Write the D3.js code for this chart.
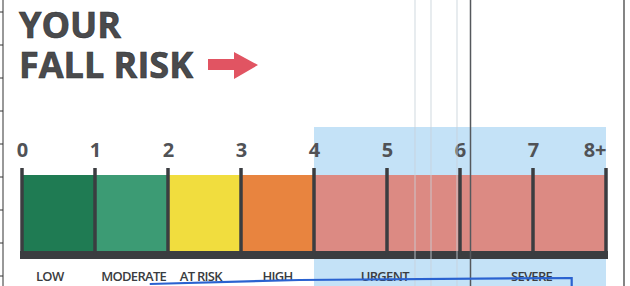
<!DOCTYPE html>
<html><head><meta charset="utf-8">
<script src="https://cdn.jsdelivr.net/npm/d3@7"></script>
<style>html,body{margin:0;padding:0;background:#fff;overflow:hidden}svg{display:block}</style>
</head><body>
<svg id="c" width="630" height="286"></svg>
<script>
// ---- data ----
const titleLines = ["YOUR","FALL RISK"];
const tickLabels = ["0","1","2","3","4","5","6","7","8+"];
const tickValues = [0,1,2,3,4,5,6,7,8];
const segStart = [0,1,2,3,4];
const segEnd   = [1,2,3,4,8];
const segColors = ["#1f7b53","#3c9b74","#f1dd3e","#e8843f","#dc8a83"];
const riskLabels = ["LOW","MODERATE","AT RISK","HIGH","URGENT","SEVERE"];
const riskLabelPos = [0.38,1.53,2.45,3.5,4.97,6.98];
const highlightRange = [4,8];
const markerX = [1.75,3.8,7.53,7.53];
const markerY = [284,280,278,292];

const svg = d3.select("#c");
const x = d3.scaleLinear().domain([0,8]).range([22,606]);

// scanned page artifacts: borders
svg.append("line").attr("x1",3).attr("x2",3).attr("y1",0).attr("y2",286).attr("stroke","#333").attr("stroke-width",1);
d3.range(12,286,33).forEach(y=>svg.append("line").attr("x1",0).attr("x2",3).attr("y1",y).attr("y2",y).attr("stroke","#333"));
svg.append("line").attr("x1",624).attr("x2",624).attr("y1",0).attr("y2",286).attr("stroke","#333").attr("stroke-width",1.2);

// highlight
svg.append("rect").attr("x",x(highlightRange[0])).attr("y",127)
  .attr("width",x(highlightRange[1])-x(highlightRange[0])).attr("height",170).attr("fill","#c4e2f7");

// title
svg.selectAll("text.title").data(titleLines).join("text").attr("class","title")
  .attr("x",19).attr("y",(d,i)=>38+i*40)
  .attr("font-family","Open Sans").attr("font-weight",700)
  .attr("font-size",36).attr("fill","#4a4b4d").attr("stroke","#2e2f31").attr("stroke-width",0.6)
  .text(d=>d);
// arrow
svg.append("path").attr("d","M208,59 L234,59 L234,52 L258,65 L234,79 L234,70 L208,70 Z").attr("fill","#e15462");

// segments
svg.selectAll("rect.seg").data(segStart).join("rect").attr("class","seg")
  .attr("x",(d)=>x(d)).attr("y",175).attr("width",(d,i)=>x(segEnd[i])-x(d)).attr("height",78)
  .attr("fill",(d,i)=>segColors[i]);

// baseline
svg.append("rect").attr("x",x(0)-2).attr("y",251).attr("width",x(8)-x(0)+4).attr("height",8).attr("fill","#3b3d40");

// ticks
const axis = d3.axisTop(x).tickValues(tickValues).tickFormat((d,i)=>tickLabels[i]).tickSize(0).tickPadding(0);
const g = svg.append("g").attr("transform","translate(0,157)").call(axis);
g.select(".domain").remove();
g.selectAll("text").attr("font-family","Open Sans").attr("font-weight",700).attr("font-size",20).attr("fill","#505256")
  .attr("dy",0).attr("y",0)
  .attr("text-anchor",(d,i)=>i===tickValues.length-1?"end":"middle");
svg.selectAll("line.tk").data(tickValues).join("line").attr("class","tk")
  .attr("x1",d=>x(d)).attr("x2",d=>x(d)).attr("y1",168).attr("y2",255)
  .attr("stroke","#3b3d40").attr("stroke-width",3.5);

// faint scan lines
[415,431,457].forEach(px=>svg.append("line").attr("x1",px).attr("x2",px).attr("y1",0).attr("y2",286).attr("stroke","#c9d3db").attr("stroke-width",1.2).attr("opacity",0.7));
svg.append("line").attr("x1",470.5).attr("x2",470.5).attr("y1",0).attr("y2",286).attr("stroke","#55585c").attr("stroke-width",1.5);

// risk labels
svg.selectAll("text.rl").data(riskLabels).join("text").attr("class","rl")
  .attr("x",(d,i)=>x(riskLabelPos[i])).attr("y",281).attr("text-anchor","middle")
  .attr("font-family","Open Sans").attr("font-weight",600).attr("font-size",13).attr("letter-spacing",-0.7)
  .attr("fill","#3a3c40").text(d=>d);

// hand-drawn marker
svg.append("path").datum(markerX.map((v,i)=>[x(v),markerY[i]]))
  .attr("d",d3.line().curve(d3.curveLinear)).attr("fill","none").attr("stroke","#2a62d0").attr("stroke-width",2.2);
</script>
</body></html>
